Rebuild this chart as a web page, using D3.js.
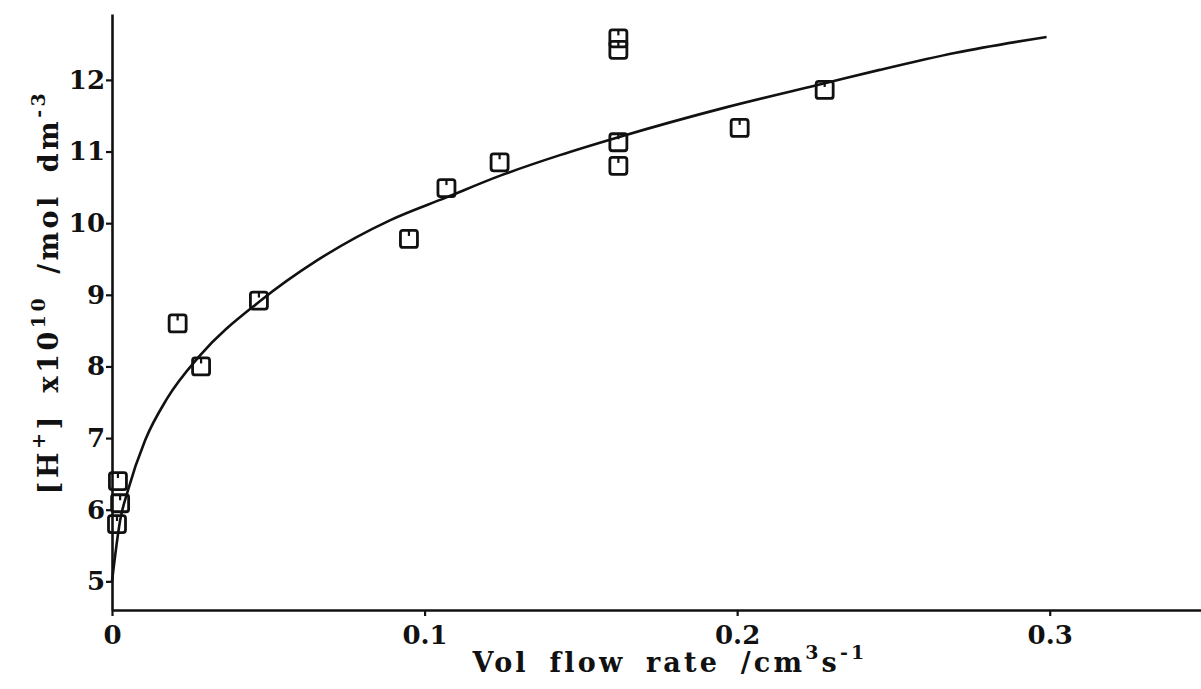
<!DOCTYPE html>
<html>
<head>
<meta charset="utf-8">
<script src="https://cdn.jsdelivr.net/npm/d3@7"></script>
<style>
  html, body { margin: 0; padding: 0; background: #fff; }
  svg text { font-family: "DejaVu Serif", "Liberation Serif", serif; font-weight: bold; fill: #111; }
</style>
</head>
<body>
<div id="chart"></div>
<script>
// measured points (flow rate, [H+] x1e10)
const flowRate = [0.0019, 0.0026, 0.0016, 0.021, 0.0285, 0.047, 0.095, 0.107, 0.124,
    0.162, 0.162, 0.162, 0.162, 0.2008, 0.228];
const hConc = [6.40, 6.09, 5.80, 8.60, 8.00, 8.92, 9.78, 10.49, 10.85,
    12.58, 12.42, 11.13, 10.80, 11.33, 11.86];

// fitted curve
const curveX = [0, 0.0026, 0.0051, 0.0106, 0.0176, 0.0281, 0.0476, 0.0656, 0.0889, 0.107,
    0.124, 0.1433, 0.162, 0.1967, 0.2287, 0.2456, 0.27, 0.299];
const curveY = [5.0, 5.85, 6.27, 6.97, 7.55, 8.15, 8.92, 9.48, 10.04, 10.36,
    10.66, 10.95, 11.2, 11.62, 11.96, 12.14, 12.38, 12.6];

const xTicks = [0, 0.1, 0.2, 0.3];
const yTicks = [5, 6, 7, 8, 9, 10, 11, 12];

const width = 1201, height = 689;

const x = d3.scaleLinear().domain([0, 0.35]).range([112, 1206]);
const y = d3.scaleLinear().domain([4.6, 12.92]).range([610, 14]);

const svg = d3.select('#chart').append('svg')
    .attr('width', width)
    .attr('height', height);

const xAxis = svg.append('g')
    .attr('transform', `translate(0,${y(4.6)})`)
    .call(d3.axisBottom(x).tickValues(xTicks).tickSizeInner(6).tickSizeOuter(0)
        .tickFormat(d => d === 0 ? '0' : d3.format('.1f')(d)));

const yAxis = svg.append('g')
    .attr('transform', `translate(${x(0)},0)`)
    .call(d3.axisLeft(y).tickValues(yTicks).tickSizeInner(6).tickSizeOuter(0));

[xAxis, yAxis].forEach(g => {
    g.select('.domain').attr('stroke', '#111').attr('stroke-width', 2.6);
    g.selectAll('.tick line').attr('stroke', '#111').attr('stroke-width', 2.2);
    g.selectAll('.tick text').attr('font-size', 26).attr('fill', '#111')
        .attr('font-family', '"DejaVu Serif", serif').attr('font-weight', 'bold');
});
xAxis.selectAll('.tick text').attr('dy', '0.95em');
yAxis.selectAll('.tick text').attr('x', -7);

// fitted line
const line = d3.line()
    .x((d, i) => x(curveX[i]))
    .y(d => y(d))
    .curve(d3.curveMonotoneX);

svg.append('path')
    .datum(curveY)
    .attr('fill', 'none')
    .attr('stroke', '#111')
    .attr('stroke-width', 2.6)
    .attr('d', line);

// square markers with little notch at top
const s = 8.5;
const marks = svg.append('g').selectAll('g.mark')
    .data(hConc)
    .join('g')
    .attr('class', 'mark')
    .attr('transform', (d, i) => `translate(${x(flowRate[i])},${y(d)})`);

marks.append('rect')
    .attr('x', -s).attr('y', -s)
    .attr('width', 2 * s).attr('height', 2 * s)
    .attr('rx', 2.5)
    .attr('fill', 'none')
    .attr('stroke', '#111')
    .attr('stroke-width', 2.8);

marks.append('line')
    .attr('x1', 0).attr('x2', 0)
    .attr('y1', -s).attr('y2', -s + 5.5)
    .attr('stroke', '#111')
    .attr('stroke-width', 2.2);

// axis titles
const xTitle = svg.append('text')
    .attr('x', 670)
    .attr('y', 672)
    .attr('text-anchor', 'middle')
    .attr('font-size', 27)
    .attr('letter-spacing', 3.2)
    .attr('word-spacing', 8);
xTitle.append('tspan').text('Vol flow rate /cm');
xTitle.append('tspan').attr('dy', -13).attr('font-size', 19).text('3');
xTitle.append('tspan').attr('dy', 13).text('s');
xTitle.append('tspan').attr('dy', -13).attr('font-size', 19).text('-1');

const yTitle = svg.append('text')
    .attr('transform', 'translate(58,292) rotate(-90)')
    .attr('text-anchor', 'middle')
    .attr('font-size', 27)
    .attr('letter-spacing', 3.5)
    .attr('word-spacing', 8);
yTitle.append('tspan').text('[H');
yTitle.append('tspan').attr('dy', -13).attr('font-size', 19).text('+');
yTitle.append('tspan').attr('dy', 13).text('] x10');
yTitle.append('tspan').attr('dy', -13).attr('font-size', 19).text('10');
yTitle.append('tspan').attr('dy', 13).text(' /mol dm');
yTitle.append('tspan').attr('dy', -13).attr('font-size', 19).text('-3');
</script>
</body>
</html>
